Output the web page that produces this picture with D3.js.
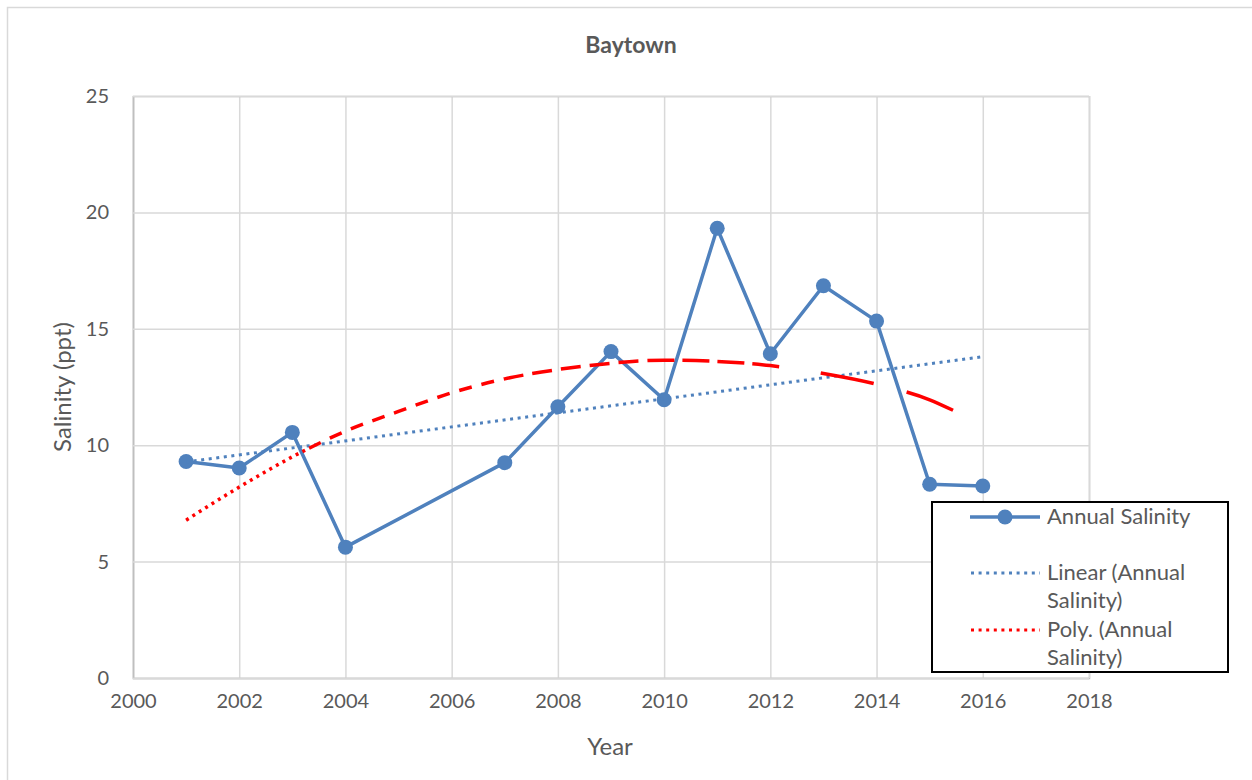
<!DOCTYPE html>
<html><head><meta charset="utf-8">
<script src="https://cdn.jsdelivr.net/npm/d3@7"></script>
<style>body{margin:0;background:#fff}svg{display:block}text{font-family:Lato,"Open Sans",sans-serif}</style>
</head><body>
<svg id="c" width="1252" height="780"></svg>
<script>
const years = [2001,2002,2003,2004,2007,2008,2009,2010,2011,2012,2013,2014,2015,2016];
const salinity = [9.3,9.02,10.55,5.62,9.25,11.65,14.02,11.95,19.32,13.93,16.85,15.33,8.32,8.25];
const linearX = [2001,2016];
const linearY = [9.28,13.8];
const polyX = [2001,2002,2003,2004,2005,2006,2007,2008,2009,2010,2011,2012,2013,2014,2015,2015.44];
const polyY = [6.78,8.2,9.5,10.6,11.45,12.25,12.85,13.25,13.52,13.65,13.6,13.42,13.08,12.62,11.95,11.5];
const xTicks = [2000,2002,2004,2006,2008,2010,2012,2014,2016,2018];
const yTicks = [0,5,10,15,20,25];
const legendLabels = [["Annual Salinity"],["Linear (Annual","Salinity)"],["Poly. (Annual","Salinity)"]];

const svg = d3.select("#c");
const blue = "#4f81bd", red = "#ff0000", grid = "#d9d9d9", txt = "#595959";
const x = d3.scaleLinear().domain([2000,2018]).range([133,1089]);
const y = d3.scaleLinear().domain([0,25]).range([678,96]);

svg.append("rect").attr("x",7.5).attr("y",7.5).attr("width",1270).attr("height",800)
  .attr("fill","#fff").attr("stroke",grid).attr("stroke-width",1.5);

svg.append("text").attr("x",631).attr("y",53).attr("text-anchor","middle")
  .attr("font-size",23).attr("font-weight","bold").attr("fill",txt).text("Baytown");

const gx = svg.append("g").attr("transform","translate(0,678)")
  .call(d3.axisBottom(x).tickValues(xTicks).tickSize(-582).tickFormat(d3.format("d")).tickPadding(16));
gx.select(".domain").attr("stroke","#bfbfbf").attr("stroke-width",1.5);
gx.selectAll(".tick line").attr("stroke",grid).attr("stroke-width",1.5);
gx.selectAll(".tick text").attr("font-size",20).attr("fill",txt).attr("font-family","Lato");

const gy = svg.append("g").attr("transform","translate(133,0)")
  .call(d3.axisLeft(y).tickValues(yTicks).tickSize(-956).tickPadding(24));
gy.select(".domain").attr("stroke","#bfbfbf").attr("stroke-width",1.5);
gy.selectAll(".tick line").attr("stroke",grid).attr("stroke-width",1.5);
gy.selectAll(".tick text").attr("font-size",20).attr("fill",txt).attr("font-family","Lato");

svg.append("text").attr("x",610).attr("y",755).attr("text-anchor","middle")
  .attr("font-size",24).attr("fill",txt).text("Year");
svg.append("text").attr("transform","translate(71,387) rotate(-90)").attr("text-anchor","middle")
  .attr("font-size",24).attr("fill",txt).text("Salinity (ppt)");

const line = d3.line().x(d=>x(d[0])).y(d=>y(d[1]));
const pts = years.map((yr,i)=>[yr,salinity[i]]);
svg.append("path").datum(pts).attr("d",line).attr("fill","none").attr("stroke",blue)
  .attr("stroke-width",3.5).attr("stroke-linejoin","round");
svg.selectAll("circle.m").data(pts).enter().append("circle").attr("class","m")
  .attr("cx",d=>x(d[0])).attr("cy",d=>y(d[1])).attr("r",7.5).attr("fill",blue);

svg.append("path").datum(linearX.map((v,i)=>[v,linearY[i]])).attr("d",line)
  .attr("fill","none").attr("stroke",blue).attr("stroke-width",3).attr("stroke-dasharray","3,4.6");

const polyPath = svg.append("path").datum(polyX.map((v,i)=>[v,polyY[i]]))
  .attr("d",d3.line().x(d=>x(d[0])).y(d=>y(d[1])).curve(d3.curveMonotoneX))
  .attr("fill","none").attr("stroke",red).attr("stroke-width",3.5);
const L = polyPath.node().getTotalLength();
const tail = [54,34,50];
const tailStart = L - d3.sum(tail);
const dashes = [];
let acc = 0;
const segs = [[140,3,4.5],[330,13,10],[470,20,9],[tailStart-40,27,8]];
for (const [lim,a,b] of segs){ while(acc < lim){ dashes.push(a,b); acc += a+b; } }
dashes[dashes.length-1] += tailStart - acc;
dashes.push(...tail, 2000);
polyPath.attr("stroke-dasharray",dashes.join(","));

const lg = svg.append("g");
lg.append("rect").attr("x",932).attr("y",502).attr("width",296).attr("height",170)
  .attr("fill","#fff").attr("stroke","#000").attr("stroke-width",2);
const rows = [517,573,630];
lg.append("line").attr("x1",970).attr("x2",1040).attr("y1",rows[0]).attr("y2",rows[0])
  .attr("stroke",blue).attr("stroke-width",3.5);
lg.append("circle").attr("cx",1005).attr("cy",rows[0]).attr("r",7.5).attr("fill",blue);
lg.append("line").attr("x1",971).attr("x2",1040).attr("y1",rows[1]).attr("y2",rows[1])
  .attr("stroke",blue).attr("stroke-width",3).attr("stroke-dasharray","3,4.6");
lg.append("line").attr("x1",971).attr("x2",1040).attr("y1",rows[2]).attr("y2",rows[2])
  .attr("stroke",red).attr("stroke-width",3).attr("stroke-dasharray","3,4.6");
legendLabels.forEach((lines,i)=>{
  lines.forEach((t,j)=>{
    lg.append("text").attr("x",1047).attr("y",rows[i]+7+j*28).attr("font-size",22)
      .attr("fill",txt).text(t);
  });
});
</script>
</body></html>
